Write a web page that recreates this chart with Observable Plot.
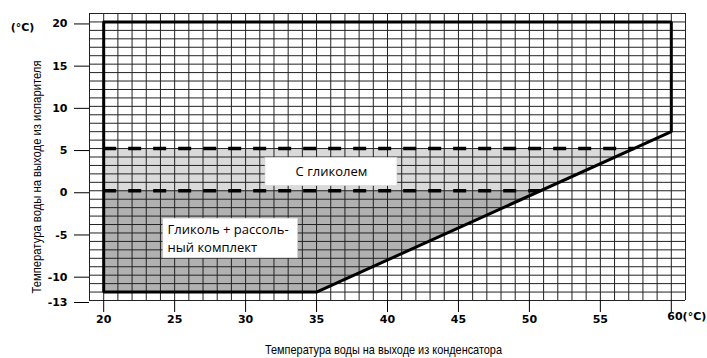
<!DOCTYPE html>
<html><head><meta charset="utf-8">
<script src="https://cdn.jsdelivr.net/npm/d3@7"></script>
<script src="https://cdn.jsdelivr.net/npm/@observablehq/plot@0.6"></script>
<style>body{margin:0;background:#fff}</style>
</head><body><div id="chart"></div>
<script>
// Tick labels
const xTicks = [20, 25, 30, 35, 40, 45, 50, 55, 60];
const yTicks = [20, 15, 10, 5, 0, -5, -10, -13];
// Grid (1 °C steps)
const gridX = d3.range(19, 62);
const gridY = d3.range(-13, 22);
// Operating envelope (condenser °C, evaporator °C)
const envX = [20, 60, 60, 35, 20, 20];
const envY = [20, 20, 7, -12, -12, 20];
// Brine + glycol zone
const brineX = [20, 35, 50.8];
const brineLow = [-12, -12, 0];
const brineHigh = [0, 0, 0];
// Glycol zone
const glycolX = [20, 50.8, 57.4];
const glycolLow = [0, 0, 5];
const glycolHigh = [5, 5, 5];
// Dashed thresholds
const dashY = [5, 0];
const dashEnd = [57.4, 50.8];
// Labels
const zoneLabels = ["С гликолем", "Гликоль + рассоль-\nный комплект"];
const yTitle = "Температура воды на выходе из испарителя";
const xTitle = "Температура воды на выходе из конденсатора";
const unit = "(°C)";

const env = envX.map((x, i) => ({x, y: envY[i]}));
const brine = brineX.map((x, i) => ({x, y1: brineLow[i], y2: brineHigh[i]}));
const glycol = glycolX.map((x, i) => ({x, y1: glycolLow[i], y2: glycolHigh[i]}));
const dashes = dashY.map((y, i) => ({y, x1: 20, x2: dashEnd[i]}));
const boxes = [
  {x1: 31.4, x2: 40.7, y1: 0.55, y2: 3.9},
  {x1: 24.2, x2: 33.7, y1: -8.0, y2: -3.3}
];

const titleFont = "'Liberation Sans', Arial, sans-serif";
const tickFont = "'DejaVu Sans', sans-serif";

const chart = Plot.plot({
  width: 707, height: 358,
  marginLeft: 89, marginRight: 22, marginTop: 13, marginBottom: 58,
  x: {domain: [19, 61]},
  y: {domain: [-13, 21]},
  style: {background: "#fff", color: "#000", fontFamily: tickFont, fontSize: "11px", fontWeight: "bold", overflow: "visible"},
  marks: [
    Plot.areaY(brine, {x: "x", y1: "y1", y2: "y2", fill: "#b1b1b1"}),
    Plot.areaY(glycol, {x: "x", y1: "y1", y2: "y2", fill: "#dadada"}),
    Plot.ruleX(gridX, {y1: -13, y2: 21, stroke: "#222", strokeWidth: 1}),
    Plot.ruleY(gridY, {x1: 19, x2: 61, stroke: "#222", strokeWidth: 1}),
    Plot.ruleY(dashes, {y: "y", x1: "x1", x2: "x2", stroke: "#000", strokeWidth: 3.5, strokeDasharray: "13,12"}),
    Plot.line(env, {x: "x", y: "y", stroke: "#000", strokeWidth: 3, strokeLinejoin: "miter"}),
    Plot.rect(boxes, {x1: "x1", x2: "x2", y1: "y1", y2: "y2", fill: "#fff", stroke: "#d0d0d0", strokeWidth: 0.6}),
    Plot.text([zoneLabels[0]], {x: 36.05, y: 2.2, fontFamily: "'Open Sans', sans-serif", fontSize: 13, fontWeight: "normal", fill: "#000"}),
    Plot.text([zoneLabels[1]], {x: 24.5, y: -5.55, textAnchor: "start", lineHeight: 1.38, fontFamily: "'Open Sans', sans-serif", fontSize: 13, fontWeight: "normal", fill: "#000"}),
    Plot.axisX(xTicks, {tickSize: 12, tickPadding: 3, tickFormat: d => d === 60 ? "" : String(d), label: null}),
    Plot.text([60], {x: d => d, frameAnchor: "bottom", text: d => d + unit, textAnchor: "start", dx: -4, dy: 19}),
    Plot.axisY(yTicks, {tickSize: 15, tickPadding: 7, dy: 2, tickFormat: d => String(d), label: null}),
    Plot.text([unit], {frameAnchor: "top-left", textAnchor: "middle", dx: -67, dy: 10}),
    Plot.text([yTitle], {frameAnchor: "left", textAnchor: "middle", rotate: -90, dx: -53, dy: 20, fontFamily: titleFont, fontSize: 13, fontWeight: "normal"}),
    Plot.text([xTitle], {frameAnchor: "bottom", textAnchor: "middle", dx: -4, dy: 53, fontFamily: titleFont, fontSize: 13, fontWeight: "normal"})
  ]
});
// Condensed look of the reference titles
d3.select(chart).selectAll("text").each(function () {
  const t = this.textContent;
  if (t === yTitle) d3.select(this).attr("textLength", 233).attr("lengthAdjust", "spacingAndGlyphs");
  if (t === xTitle) d3.select(this).attr("textLength", 237).attr("lengthAdjust", "spacingAndGlyphs");
});
document.getElementById("chart").appendChild(chart);
</script>
</body></html>
